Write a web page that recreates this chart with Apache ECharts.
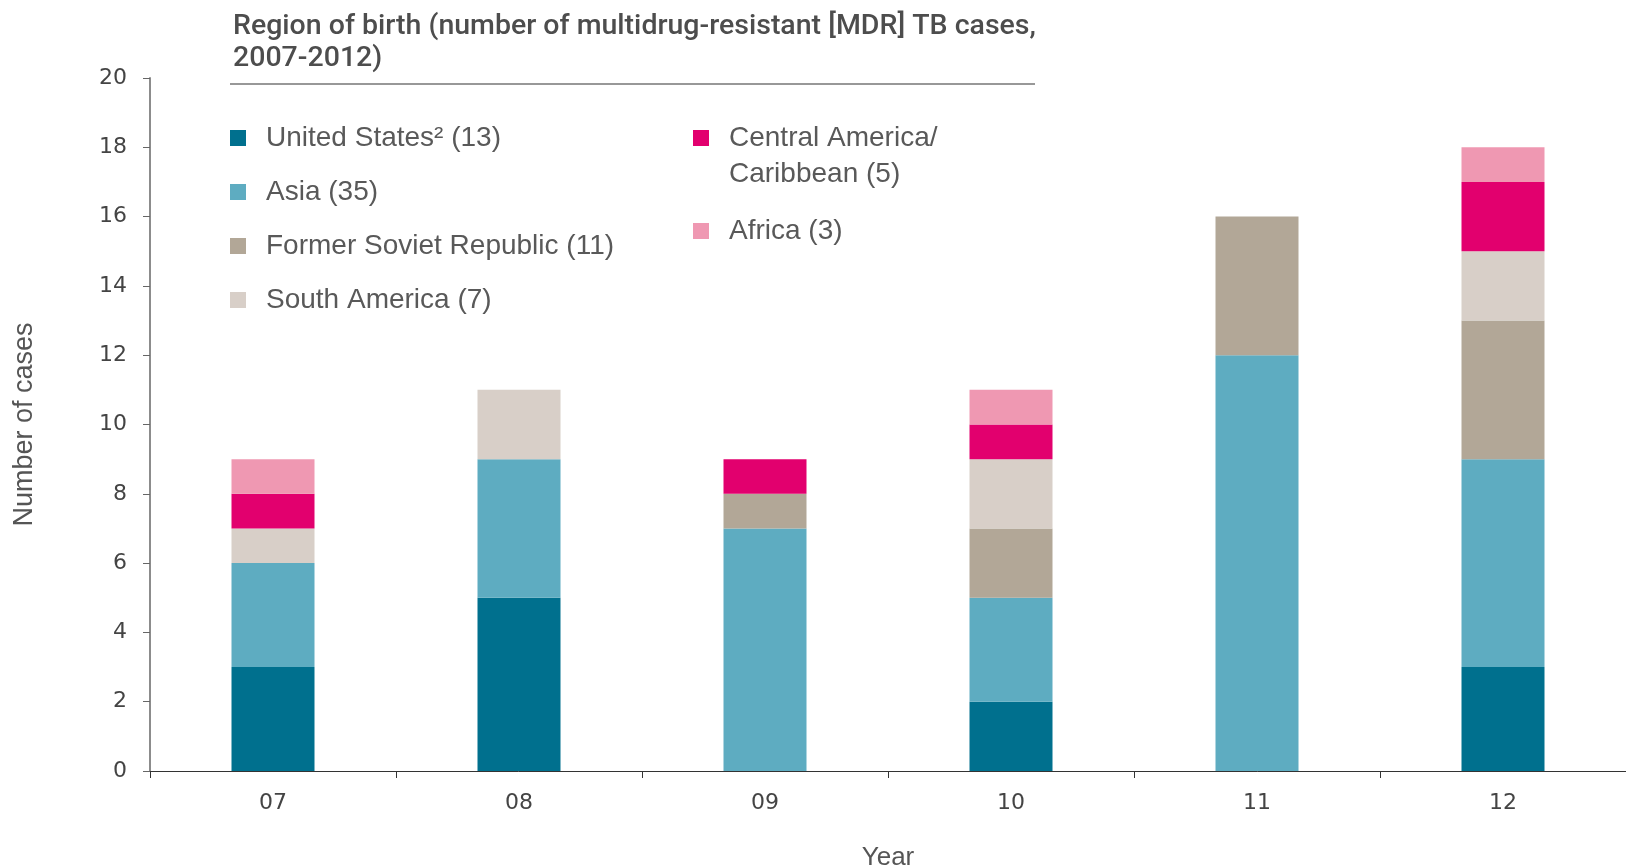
<!DOCTYPE html>
<html>
<head>
<meta charset="utf-8">
<script src="https://cdn.jsdelivr.net/npm/echarts@6/dist/echarts.min.js"></script>
<style>
  html, body { margin: 0; padding: 0; background: #fff; }
  #chart { width: 1626px; height: 868px; }
</style>
</head>
<body>
<div id="chart"></div>
<script>
// 数据
const years = ['07', '08', '09', '10', '11', '12'];
const unitedStates = [3, 5, 0, 2, 0, 3];
const asia = [3, 4, 7, 3, 12, 6];
const formerSoviet = [0, 0, 1, 2, 4, 4];
const southAmerica = [1, 2, 0, 2, 0, 2];
const centralAmerica = [1, 0, 1, 1, 0, 2];
const africa = [1, 0, 0, 1, 0, 1];
const yTicks = [0, 20, 2]; // min, max, interval

const names = {
  us: 'United States\u00b2 (13)',
  asia: 'Asia (35)',
  fsr: 'Former Soviet Republic (11)',
  sa: 'South America (7)',
  ca: 'Central America/Caribbean (5)',
  af: 'Africa (3)'
};

const mycharts = echarts.init(document.getElementById('chart'));

const legendText = {
  fontFamily: 'Liberation Sans',
  fontSize: 28,
  color: '#595959',
  lineHeight: 36,
  padding: [0, 0, 0, 15]
};

const bar = (name, data, color) => ({
  name: name,
  type: 'bar',
  stack: 'total',
  barWidth: 83,
  itemStyle: { color: color },
  data: data
});

const options = {
  animation: false,
  title: {
    text: 'Region of birth (number of multidrug-resistant [MDR] TB cases,\n2007-2012)',
    left: 228,
    top: 6,
    textStyle: {
      fontFamily: 'Roboto',
      fontWeight: 500,
      fontSize: 28.5,
      lineHeight: 32,
      color: '#4d4d4d'
    }
  },
  legend: [
    {
      orient: 'vertical',
      left: 225,
      top: 115,
      itemWidth: 16,
      itemHeight: 16,
      itemGap: 18,
      icon: 'rect',
      textStyle: legendText,
      data: [names.us, names.asia, names.fsr, names.sa]
    },
    {
      orient: 'vertical',
      left: 688,
      top: 79,
      itemWidth: 16,
      itemHeight: 16,
      itemGap: 21,
      icon: 'rect',
      textStyle: legendText,
      // 空行让图标对齐第一行
      formatter: (name) => name === names.ca ? '\u00a0\nCentral America/\nCaribbean (5)' : name,
      data: [names.ca, names.af]
    }
  ],
  grid: {
    left: 150,
    right: 0,
    top: 78,
    bottom: 97,
    outerBoundsMode: 'none'
  },
  xAxis: {
    type: 'category',
    data: years,
    name: 'Year',
    nameLocation: 'middle',
    nameGap: 74,
    nameTextStyle: { fontFamily: 'Liberation Sans', fontSize: 26, color: '#555' },
    axisLine: { lineStyle: { color: '#333', width: 1 } },
    axisTick: { show: true, length: 7, lineStyle: { color: '#333' } },
    axisLabel: { margin: 21, fontFamily: 'DejaVu Sans', fontSize: 22, color: '#444' }
  },
  yAxis: {
    type: 'value',
    min: yTicks[0],
    max: yTicks[1],
    interval: yTicks[2],
    name: 'Number of cases',
    nameLocation: 'middle',
    nameGap: 112,
    nameTextStyle: { fontFamily: 'Liberation Sans', fontSize: 27, color: '#555' },
    splitLine: { show: false },
    axisLine: { show: true, lineStyle: { color: '#8c8c8c', width: 2 } },
    axisTick: { show: true, length: 7, lineStyle: { color: '#666' } },
    axisLabel: { margin: 23, fontFamily: 'DejaVu Sans', fontSize: 22, color: '#444' }
  },
  graphic: [
    {
      type: 'line',
      shape: { x1: 230, y1: 84, x2: 1035, y2: 84 },
      style: { stroke: '#333', lineWidth: 1.2 }
    }
  ],
  series: [
    bar(names.us, unitedStates, '#00708e'),
    bar(names.asia, asia, '#5eacc1'),
    bar(names.fsr, formerSoviet, '#b2a797'),
    bar(names.sa, southAmerica, '#d8cfc8'),
    bar(names.ca, centralAmerica, '#e2006e'),
    bar(names.af, africa, '#ef98b2')
  ]
};

mycharts.setOption(options);
</script>
</body>
</html>
